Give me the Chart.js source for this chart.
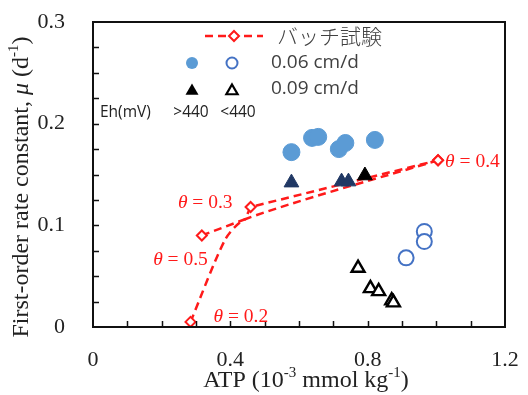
<!DOCTYPE html>
<html>
<head>
<meta charset="utf-8">
<script src="https://cdn.jsdelivr.net/npm/chart.js@4/dist/chart.umd.min.js"></script>
<style>
  html, body { margin: 0; padding: 0; background: #fff; }
  #wrap { width: 528px; height: 395px; }
</style>
</head>
<body>
<div id="wrap"><canvas id="chart"></canvas></div>
<script>
// données
const xTickLabels = [0, 0.4, 0.8, 1.2];
const yTickLabels = [0, 0.1, 0.2, 0.3];
const xMinorTicks = [0.1, 0.2, 0.3, 0.4, 0.5, 0.6, 0.7, 0.8, 0.9, 1.0, 1.1];
const yMinorTicks = [0.025, 0.05, 0.075, 0.1, 0.125, 0.15, 0.175, 0.2, 0.225, 0.25, 0.275];

// 0.06 cm/d, Eh > 440 (cercles pleins)
const fast06High = [[0.578, 0.172], [0.638, 0.186], [0.656, 0.187], [0.716, 0.175], [0.735, 0.181], [0.821, 0.184]];
// 0.06 cm/d, Eh < 440 (cercles vides)
const fast06Low = [[0.912, 0.068], [0.965, 0.094], [0.965, 0.084]];
// 0.09 cm/d, Eh > 440 (triangles pleins)
const slow09High = [[0.578, 0.142], [0.724, 0.143], [0.744, 0.143], [0.792, 0.149]];
const slow09HighColors = ['#203864', '#203864', '#203864', '#000000'];
// 0.09 cm/d, Eh < 440 (triangles vides)
const slow09Low = [[0.772, 0.058], [0.808, 0.038], [0.832, 0.035], [0.870, 0.026], [0.875, 0.024]];

// バッチ試験 : deux courbes, points marqués = essais
const batchLower = [[0.284, 0.005], [0.385, 0.086], [0.443, 0.106], [1.005, 0.164]];
const batchLowerMarked = [true, false, false, true];
const batchUpper = [[0.317, 0.090], [0.443, 0.106], [0.459, 0.118], [1.005, 0.164]];
const batchUpperMarked = [true, false, true, true];
const thetaLabels = ['θ', '= 0.2', '= 0.5', '= 0.3', '= 0.4'];

const toXY = arr => arr.map(p => ({ x: p[0], y: p[1] }));
const SERIF = "'Liberation Serif', 'DejaVu Serif', serif";
const SANS = "'Open Sans', 'Noto Sans', sans-serif";
const RED = '#ff1a1a';

// texte composé (exposants, italique)
function drawParts(ctx, parts, x, y, align) {
    let w = 0;
    parts.forEach(p => { ctx.font = p.font; w += ctx.measureText(p.t).width; });
    let cx = align === 'center' ? x - w / 2 : (align === 'right' ? x - w : x);
    ctx.textAlign = 'left';
    ctx.textBaseline = 'middle';
    parts.forEach(p => {
        ctx.font = p.font;
        ctx.fillText(p.t, cx, y + (p.dy || 0));
        cx += ctx.measureText(p.t).width;
    });
}

function triangle(ctx, x, y, r) {
    ctx.beginPath();
    ctx.moveTo(x, y - r);
    ctx.lineTo(x + r * 0.866, y + r * 0.5);
    ctx.lineTo(x - r * 0.866, y + r * 0.5);
    ctx.closePath();
}

const decorPlugin = {
    id: 'decor',
    afterDraw(chart) {
        const ctx = chart.ctx;
        const a = chart.chartArea;
        const xs = chart.scales.x, ys = chart.scales.y;
        ctx.save();

        // cadre
        ctx.strokeStyle = '#111';
        ctx.lineWidth = 2;
        ctx.strokeRect(a.left, a.top, a.right - a.left, a.bottom - a.top);

        // graduations intérieures
        ctx.lineWidth = 1.5;
        ctx.beginPath();
        xMinorTicks.forEach(v => {
            const px = Math.round(xs.getPixelForValue(v)) + 0.5;
            ctx.moveTo(px, a.bottom);
            ctx.lineTo(px, a.bottom - 6);
        });
        yMinorTicks.forEach(v => {
            const py = Math.round(ys.getPixelForValue(v)) + 0.5;
            ctx.moveTo(a.left, py);
            ctx.lineTo(a.left + 6, py);
        });
        ctx.stroke();

        // étiquettes θ
        ctx.fillStyle = RED;
        const it = 'italic 19.5px ' + SERIF, nf = '19.5px ' + SERIF;
        const lab = (pt, txt, dx, dy, align) => {
            drawParts(ctx, [{ t: thetaLabels[0], font: it }, { t: ' ' + txt, font: nf }],
                xs.getPixelForValue(pt[0]) + dx, ys.getPixelForValue(pt[1]) + dy, align);
        };
        lab(batchLower[0], thetaLabels[1], 23, -5, 'left');
        lab(batchUpper[0], thetaLabels[2], 6, 24, 'right');
        lab(batchUpper[2], thetaLabels[3], -18, -4, 'right');
        lab(batchUpper[3], thetaLabels[4], 7, 2, 'left');

        // titres des axes
        ctx.fillStyle = '#222';
        const tf = '24px ' + SERIF, sf = '15px ' + SERIF;
        drawParts(ctx, [
            { t: 'ATP (10', font: tf }, { t: '-3', font: sf, dy: -8 },
            { t: ' mmol kg', font: tf }, { t: '-1', font: sf, dy: -8 }, { t: ')', font: tf }
        ], (a.left + a.right) / 2 + 7, 381, 'center');
        ctx.save();
        ctx.translate(22, 187);
        ctx.rotate(-Math.PI / 2);
        drawParts(ctx, [
            { t: 'First-order rate constant, ', font: tf }, { t: 'μ', font: 'italic 24px ' + SERIF },
            { t: ' (d', font: tf }, { t: '-1', font: sf, dy: -8 }, { t: ')', font: tf }
        ], 0, 0, 'center');
        ctx.restore();

        // légende
        ctx.strokeStyle = RED;
        ctx.lineWidth = 2.5;
        ctx.setLineDash([8, 5]);
        ctx.beginPath();
        ctx.moveTo(205, 36); ctx.lineTo(263, 36);
        ctx.stroke();
        ctx.setLineDash([]);
        ctx.fillStyle = '#fff';
        ctx.lineWidth = 2;
        ctx.beginPath();
        ctx.moveTo(234, 31); ctx.lineTo(239, 36); ctx.lineTo(234, 41); ctx.lineTo(229, 36); ctx.closePath();
        ctx.fill(); ctx.stroke();

        ctx.fillStyle = '#5b9bd5';
        ctx.beginPath(); ctx.arc(192, 63, 6, 0, Math.PI * 2); ctx.fill();
        ctx.strokeStyle = '#4472c4';
        ctx.fillStyle = '#fff';
        ctx.beginPath(); ctx.arc(232, 63, 5.5, 0, Math.PI * 2); ctx.fill(); ctx.stroke();

        ctx.fillStyle = '#000';
        triangle(ctx, 192, 91, 7.5); ctx.fill();
        ctx.strokeStyle = '#000';
        ctx.fillStyle = '#fff';
        ctx.lineWidth = 2.2;
        triangle(ctx, 232, 91, 6.5); ctx.fill(); ctx.stroke();

        ctx.fillStyle = '#404040';
        ctx.textAlign = 'left';
        ctx.textBaseline = 'middle';
        ctx.font = "300 21px 'Noto Sans CJK JP', sans-serif";
        ctx.fillText('バッチ試験', 277, 36);
        ctx.font = '19px ' + SANS;
        ctx.fillText('0.06 cm/d', 271, 63);
        ctx.fillText('0.09 cm/d', 271, 89);
        ctx.fillStyle = '#222';
        ctx.font = '15.5px ' + SANS;
        ctx.fillText('Eh(mV)', 100, 113);
        ctx.textAlign = 'center';
        ctx.fillText('>440', 191, 113);
        ctx.fillText('<440', 238, 113);

        ctx.restore();
    }
};

new Chart(document.getElementById('chart'), {
    type: 'scatter',
    data: {
        datasets: [
            {
                label: '0.06 cm/d >440',
                data: toXY(fast06High),
                backgroundColor: '#5b9bd5',
                borderColor: '#5b9bd5',
                pointRadius: 8.5,
                order: 1
            },
            {
                label: '0.06 cm/d <440',
                data: toXY(fast06Low),
                backgroundColor: '#fff',
                borderColor: '#4472c4',
                borderWidth: 2,
                pointRadius: 7.5,
                order: 1
            },
            {
                label: '0.09 cm/d >440',
                data: toXY(slow09High),
                pointStyle: 'triangle',
                backgroundColor: slow09HighColors,
                borderColor: slow09HighColors,
                pointRadius: 8.5,
                order: 1
            },
            {
                label: '0.09 cm/d <440',
                data: toXY(slow09Low),
                pointStyle: 'triangle',
                backgroundColor: '#fff',
                borderColor: '#000',
                borderWidth: 2.4,
                pointRadius: 7.5,
                order: 1
            },
            {
                label: 'バッチ試験',
                data: toXY(batchLower),
                showLine: true,
                borderColor: RED,
                borderWidth: 2.5,
                borderDash: [8, 5],
                tension: 0.25,
                pointStyle: 'rectRot',
                pointRadius: batchLowerMarked.map(m => m ? 5 : 0),
                pointBackgroundColor: '#fff',
                pointBorderColor: RED,
                pointBorderWidth: 2,
                order: 2
            },
            {
                label: 'バッチ試験 2',
                data: toXY(batchUpper),
                showLine: true,
                borderColor: RED,
                borderWidth: 2.5,
                borderDash: [8, 5],
                tension: 0,
                pointStyle: 'rectRot',
                pointRadius: batchUpperMarked.map(m => m ? 5 : 0),
                pointBackgroundColor: '#fff',
                pointBorderColor: RED,
                pointBorderWidth: 2,
                order: 2
            }
        ]
    },
    options: {
        responsive: true,
        maintainAspectRatio: false,
        animation: false,
        layout: { padding: { top: 22, right: 23, left: 0, bottom: 0 } },
        plugins: { legend: { display: false }, tooltip: { enabled: false } },
        scales: {
            x: {
                type: 'linear',
                min: 0, max: 1.2,
                grid: { display: false },
                border: { display: false },
                afterFit: s => { s.height = 68; s.paddingLeft = 0; s.paddingRight = 0; },
                afterBuildTicks: s => { s.ticks = xTickLabels.map(v => ({ value: v })); },
                ticks: {
                    padding: 12,
                    color: '#222',
                    font: { family: SERIF, size: 22 },
                    maxRotation: 0,
                    callback: v => String(v)
                }
            },
            y: {
                type: 'linear',
                min: 0, max: 0.3,
                grid: { display: false },
                border: { display: false },
                afterFit: s => { s.width = 93; s.paddingTop = 0; s.paddingBottom = 0; },
                afterBuildTicks: s => { s.ticks = yTickLabels.map(v => ({ value: v })); },
                ticks: {
                    padding: 20,
                    color: '#222',
                    font: { family: SERIF, size: 22 },
                    callback: v => String(v)
                }
            }
        }
    },
    plugins: [decorPlugin]
});
</script>
</body>
</html>
